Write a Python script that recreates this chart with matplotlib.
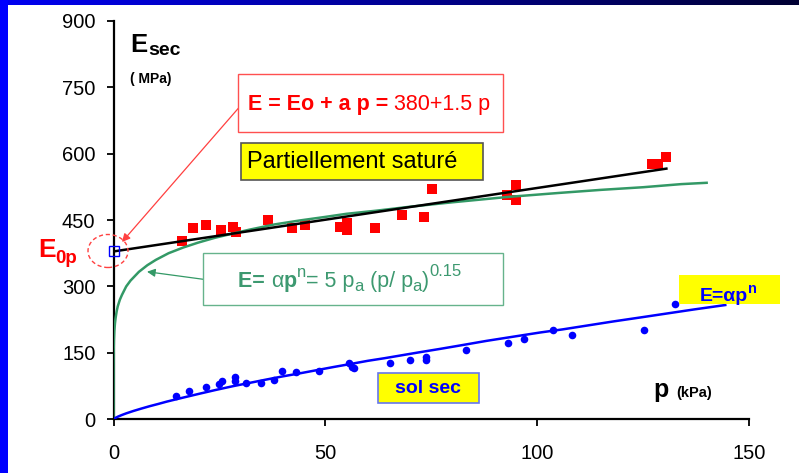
import numpy as np
import matplotlib
matplotlib.use("Agg")
import matplotlib.pyplot as plt
from matplotlib.patches import Rectangle, Ellipse

plt.rcParams['font.family'] = ['Liberation Sans', 'DejaVu Sans']

# -------------------------
# Data
# -------------------------
# partially saturated soil (red squares)
sat_p = [16.2, 18.8, 21.9, 25.4, 28.2, 28.9, 36.5, 42.2, 45.2, 53.5, 55.1, 55.1,
         61.8, 68.2, 73.4, 75.2, 92.9, 94.9, 94.9, 127.2, 128.6, 130.3]
sat_E = [403, 432, 439, 428, 435, 424, 450, 432, 439, 434, 443, 428,
         432, 461, 456, 520, 507, 496, 529, 576, 576, 592]

# linear fit E = Eo + a p
lin_p = [0, 130.5]
lin_E = [379, 566]

# power law curve for the partially saturated soil (green)
pow_p = [0, 0.01, 0.03, 0.1, 0.2, 0.35, 0.5, 0.75, 1.0, 1.5, 2, 3, 4, 5, 6, 8, 10,
         13, 16.5, 20, 24, 28, 32, 38, 44, 50, 55, 62, 70, 80, 93, 105, 115, 125,
         134, 140]
pow_E = [0, 127, 150, 180, 200, 217, 229, 244, 255, 270, 281, 300, 313, 323, 333, 348, 360,
         375, 388, 399, 410, 419, 428, 440, 449, 457, 464, 471, 480, 490, 502, 511, 518, 524,
         531, 534]

# dry soil (blue dots)
dry_p = [14.8, 17.8, 21.9, 24.8, 25.5, 28.7, 28.7, 31.3, 34.8, 38.0, 39.8, 43.1,
         48.5, 55.5, 56.2, 56.7, 65.2, 70.0, 73.8, 73.8, 83.3, 93.0, 96.8,
         103.8, 108.2, 125.2, 132.6]
dry_E = [53, 64, 74, 80, 86, 96, 86, 81, 83, 89, 108, 106,
         110, 126, 117, 115, 128, 135, 141, 134, 157, 173, 181,
         202, 190, 202, 260]

# dry soil curve E = alpha p^n (blue)
dry_curve_p = [0, 0.5, 1, 2, 3, 4.7, 6.5, 8.5, 10.5, 12.6, 16, 20.4, 24, 28.3, 32, 36.2,
               40, 44.1, 48, 51.9, 56, 60, 64, 67.7, 72, 77.1, 82, 88, 94, 100.7,
               106, 112, 118, 124.4, 130, 137, 144.4]
dry_curve_E = [0, 3.4, 5.8, 9.8, 13.4, 18.8, 24, 29.5, 34.5, 40, 48, 58, 66, 75, 82, 90,
               97, 104, 111, 118, 125, 132, 138, 144, 151, 159, 167, 177, 186, 196,
               203, 212, 221, 230, 238, 248, 258]

E0 = 380

x_ticks = [0, 50, 100, 150]
y_ticks = [0, 150, 300, 450, 600, 750, 900]

W, H = 799, 473

def fp(x, y):
    # pixel position (from top left) -> figure fraction
    return x / W, 1 - y / H

fig = plt.figure(figsize=(W / 100, H / 100), dpi=100)

# slide background: blue left band and gradient top band
bg = fig.add_axes([0, 0, 1, 1], zorder=-5)
img = np.ones((H, W, 3))
grad = np.linspace(0, 1, W)
img[:6, :, 0] = 0.0
img[:6, :, 1] = 0.0
img[:6, :, 2] = (0.95 - 0.75 * grad)[None, :]
img[:, :8] = [0.0, 0.0, 1.0]
bg.imshow(img, aspect='auto', extent=[0, 1, 0, 1])
bg.axis('off')

# -------------------------
# Main axes
# -------------------------
ax = fig.add_axes([113.5 / W, 1 - 419.3 / H, (749 - 113.5) / W, (419.3 - 20.7) / H])
ax.patch.set_alpha(0)

ax.plot(pow_p, pow_E, color='#339966', lw=1.8, zorder=3)
ax.scatter(sat_p, sat_E, marker='s', s=50, color='red', lw=0, zorder=2)
ax.plot(lin_p, lin_E, color='black', lw=1.8, zorder=4)
ax.scatter(dry_p, dry_E, marker='o', s=30, color='blue', lw=0, zorder=2)
ax.plot(dry_curve_p, dry_curve_E, color='blue', lw=1.8, zorder=3)
ax.plot([0], [E0], marker='s', ms=7, mfc='none', mec='blue', mew=1, zorder=5, clip_on=False)

ax.set_xlim(0, 150)
ax.set_ylim(0, 900)
ax.set_xticks(x_ticks)
ax.set_yticks(y_ticks)
for s in ['top', 'right']:
    ax.spines[s].set_visible(False)
for s in ['left', 'bottom']:
    ax.spines[s].set_linewidth(1.6)
ax.tick_params(axis='both', direction='out', length=5, width=1.3, labelsize=14.5)
ax.tick_params(axis='y', pad=8)
ax.tick_params(axis='x', pad=13)

fig.canvas.draw()


def write_pieces(x, y, pieces, **common):
    # put text pieces one after another on a baseline (pixel coords from top left)
    cur = x
    for txt, dy, kw in pieces:
        opts = dict(common)
        opts.update(kw)
        t = fig.text(cur / W, 1 - (y + dy) / H, txt, va='baseline', **opts)
        bb = t.get_window_extent(renderer=fig.canvas.get_renderer())
        cur = bb.x1


# -------------------------
# Labels
# -------------------------
fig.text(*fp(130, 51.7), 'E', fontsize=18.5, fontweight='bold', va='baseline')
fig.text(*fp(148, 55), 'sec', fontsize=14, fontweight='bold', va='baseline')
fig.text(*fp(130, 83.3), '( MPa)', fontsize=10, fontweight='bold', va='baseline')

fig.text(*fp(38, 256.7), 'E', fontsize=19, fontweight='bold', color='red', va='baseline')
fig.text(*fp(55, 262.7), '0p', fontsize=13.5, fontweight='bold', color='red', va='baseline')

fig.text(*fp(653, 396.7), 'p', fontsize=18, fontweight='bold', va='baseline')
fig.text(*fp(676, 397.5), '(kPa)', fontsize=10.5, fontweight='bold', va='baseline')

# red box: linear law
fig.add_artist(Rectangle(fp(238.3, 131.7), (503.3 - 238.3) / W, (131.7 - 74) / H,
                         transform=fig.transFigure, fc='white', ec='#ff5050', lw=1, zorder=6))
write_pieces(248, 110, [('E = Eo + a p = ', 0, dict(fontweight='bold')),
                        ('380+1.5 p', 0, {})],
             fontsize=15.5, color='red', zorder=7)

# yellow box: partially saturated
fig.add_artist(Rectangle(fp(240.7, 180), (483.3 - 240.7) / W, (180 - 143.3) / H,
                         transform=fig.transFigure, fc='yellow', ec='#555555', lw=1.2, zorder=6))
fig.text(*fp(246.7, 167.7), 'Partiellement saturé', fontsize=17, va='baseline', zorder=7)

# green box: power law
green_txt = '#3d9970'
fig.add_artist(Rectangle(fp(203.3, 305), (503.3 - 203.3) / W, (305 - 252.7) / H,
                         transform=fig.transFigure, fc='white', ec='#66b38c', lw=1, zorder=6))
write_pieces(238.3, 287, [('E= ', 0, dict(fontweight='bold')),
                          ('\u03b1', 0, {}),
                          ('p', 0, dict(fontweight='bold')),
                          ('n', -10, dict(fontsize=12)),
                          ('= 5 p', 0, {}),
                          ('a', 4, dict(fontsize=12)),
                          (' (p/ p', 0, {}),
                          ('a', 4, dict(fontsize=12)),
                          (')', 0, {}),
                          ('0.15', -11, dict(fontsize=12))],
             fontsize=15.5, color=green_txt, zorder=7)

# yellow box: dry power law
fig.add_artist(Rectangle(fp(679.3, 304), (780 - 679.3) / W, (304 - 275) / H,
                         transform=fig.transFigure, fc='yellow', ec='yellow', lw=0, zorder=6))
write_pieces(700, 300.7, [('E=\u03b1p', 0, {}), ('n', -8, dict(fontsize=10.5))],
             fontsize=14, fontweight='bold', color='blue', zorder=7)

# yellow box: dry soil
fig.add_artist(Rectangle(fp(377.7, 403.3), (479 - 377.7) / W, (403.3 - 372.7) / H,
                         transform=fig.transFigure, fc='yellow', ec='#6677ee', lw=1.2, zorder=6))
fig.text(*fp(395, 393), 'sol sec', fontsize=14, fontweight='bold', color='blue',
         va='baseline', zorder=7)

# arrows and circle around E0
ax.annotate('', xy=fp(122, 242), xytext=fp(238.3, 108.3), xycoords='figure fraction',
            textcoords='figure fraction',
            arrowprops=dict(arrowstyle='-|>', color='#ff4040', lw=0.9, mutation_scale=12,
                            shrinkA=0, shrinkB=0), zorder=8)
ax.annotate('', xy=fp(147, 271.7), xytext=fp(203.3, 279.3), xycoords='figure fraction',
            textcoords='figure fraction',
            arrowprops=dict(arrowstyle='-|>', color='#339966', lw=0.9, mutation_scale=12,
                            shrinkA=0, shrinkB=0), zorder=8)
fig.add_artist(Ellipse(fp(108, 251), 40 / W, 33 / H, transform=fig.transFigure,
                       fill=False, ec='#ff4040', lw=1, ls=(0, (3, 2)), zorder=8))

plt.savefig("out.png", dpi=100)
